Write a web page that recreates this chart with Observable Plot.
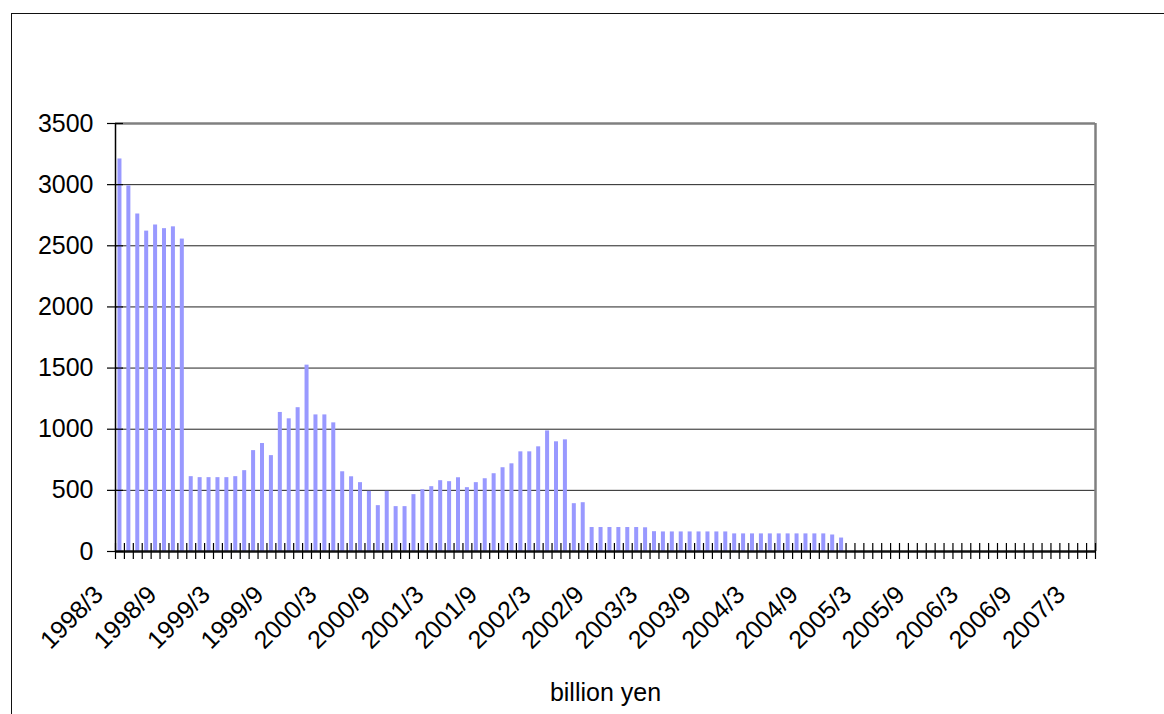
<!DOCTYPE html>
<html>
<head>
<meta charset="utf-8">
<script src="https://cdn.jsdelivr.net/npm/d3@7"></script>
<script src="https://cdn.jsdelivr.net/npm/@observablehq/plot@0.6"></script>
<style>
  html, body { margin: 0; padding: 0; background: #fff; }
  #wrap { position: relative; width: 1164px; height: 714px; overflow: hidden; }
  #border { position: absolute; left: 11px; top: 13px; width: 1200px; height: 800px;
            border-left: 1.5px solid #111; border-top: 1.5px solid #111; }
  #chart { position: absolute; left: 0; top: 0; }
</style>
</head>
<body>
<div id="wrap"><div id="border"></div><div id="chart"></div></div>
<script>
// Categories: months from 1998/3 to 2007/4
const startYear = 1998, startMonth = 3, monthCount = 110;
const categories = d3.range(monthCount).map(k => {
  const m = startMonth - 1 + k;
  return `${startYear + Math.floor(m / 12)}/${(m % 12) + 1}`;
});

// Series values (billion yen), 1998/3 .. 2004/12
const values = [
  3210, 2990, 2760, 2620, 2670, 2640, 2655, 2555,
  612, 604, 604, 604, 604, 612, 661, 825, 883, 784,
  1137, 1085, 1176, 1524, 1117, 1117, 1052,
  652, 611, 563, 492, 375, 492, 367, 367, 465, 505, 530, 579, 571, 603, 522,
  563, 595, 636, 685, 717, 815, 815, 856, 986, 897, 913,
  391, 399,
  196, 196, 196, 196, 196, 196, 194,
  162, 160, 160, 160, 160, 160, 160, 160, 160,
  144, 144, 144, 144, 144, 144, 144, 144, 144, 144, 144,
  135, 110
];

// Tick labels
const tickLabels = [
  "1998/3", "1998/9", "1999/3", "1999/9", "2000/3", "2000/9", "2001/3", "2001/9",
  "2002/3", "2002/9", "2003/3", "2003/9", "2004/3", "2004/9", "2005/3", "2005/9",
  "2006/3", "2006/9", "2007/3"
];
const yTicks = [0, 500, 1000, 1500, 2000, 2500, 3000, 3500];
const axisTitle = "billion yen";

const data = values.map((v, i) => ({month: categories[i], i, value: v}));
const labelData = tickLabels.map(t => ({label: t, i: categories.indexOf(t)}));
const boundaries = d3.range(categories.length + 1);

const font = "'Liberation Sans', Arial, sans-serif";

const chart = Plot.plot({
  width: 1164,
  height: 714,
  marginLeft: 115,
  marginRight: 69,
  marginTop: 123,
  marginBottom: 163,
  style: {fontFamily: font, fontSize: "25px", background: "transparent", color: "#000"},
  x: {type: "linear", domain: [0, categories.length], axis: null},
  y: {domain: [0, 3500], axis: null},
  marks: [
    // gridlines
    Plot.ruleY(yTicks.filter(t => t > 0 && t < 3500), {stroke: "#222", strokeWidth: 1}),
    // bars
    Plot.rectY(data, {x1: "i", x2: d => d.i + 1, y: "value", insetLeft: 2.45, insetRight: 2.45, fill: "#9999ff"}),
    // plot area border (top, right)
    Plot.ruleY([3500], {stroke: "#808080", strokeWidth: 2.5}),
    Plot.ruleX([categories.length], {stroke: "#808080", strokeWidth: 2.5}),
    // axes lines
    Plot.ruleX([0], {stroke: "#000", strokeWidth: 1.5}),
    Plot.ruleY([0], {stroke: "#111", strokeWidth: 2.5}),
    // y ticks crossing the axis
    Plot.ruleY(yTicks, {stroke: "#000", strokeWidth: 1.2, insetLeft: -8, insetRight: 972}),
    // x ticks crossing the axis at category boundaries
    Plot.ruleX(boundaries, {stroke: "#000", strokeWidth: 1.2, insetTop: 420, insetBottom: -8}),
    // y tick labels
    Plot.text(yTicks, {x: 0, y: d => d, text: d => String(d), textAnchor: "end", dx: -22, fill: "#000"}),
    // x tick labels
    Plot.text(labelData, {x: d => d.i + 0.5, y: () => 0, text: "label", rotate: -45, textAnchor: "end",
      dx: -21, dy: 39, fill: "#000"}),
    // axis title
    Plot.text([axisTitle], {frameAnchor: "bottom", text: d => d, lineAnchor: "middle", dy: 141, fill: "#000"})
  ]
});
document.getElementById("chart").appendChild(chart);
</script>
</body>
</html>
